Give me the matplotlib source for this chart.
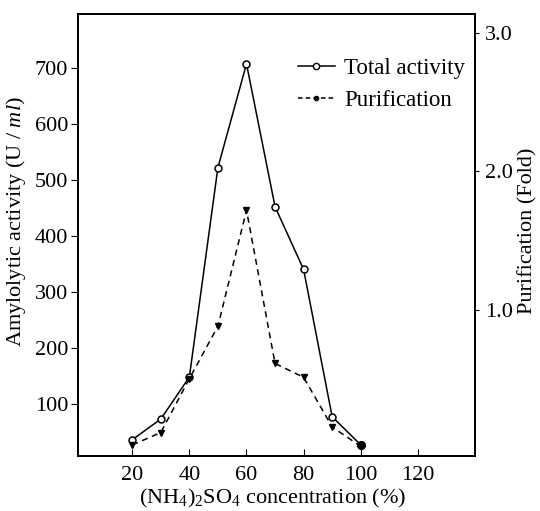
import matplotlib.pyplot as plt
from matplotlib.lines import Line2D

plt.rcParams['font.family'] = ['Liberation Serif', 'DejaVu Serif']
plt.rcParams['mathtext.fontset'] = 'custom'
plt.rcParams['mathtext.rm'] = 'Liberation Serif'
plt.rcParams['mathtext.it'] = 'Liberation Serif:italic'

# data
conc = [20, 30, 40, 50, 60, 70, 80, 90, 100]
total_activity = [36, 73, 148, 522, 707, 452, 340, 77, 27]
purification = [0.02, 0.11, 0.50, 0.88, 1.72, 0.61, 0.51, 0.15, 0.01]

x_ticks = [20, 40, 60, 80, 100, 120]
left_ticks = [100, 200, 300, 400, 500, 600, 700]
right_ticks = [1.0, 2.0, 3.0]

fs = 16

fig = plt.figure(figsize=(5.4, 5.11), dpi=100)
ax = fig.add_axes([0.1444, 0.1076, 0.7352, 0.865])
ax2 = ax.twinx()

ax.plot(conc, total_activity, color='black', linewidth=1.1,
        marker='o', markersize=5, markerfacecolor='white', markeredgewidth=1.1)
ax2.plot(conc, purification, color='black', linewidth=1.1, linestyle=(0, (4, 3)),
         marker='v', markersize=4, markerfacecolor='black')
# overlapping last point appears as a filled dot
ax.plot(conc[-1:], total_activity[-1:], 'o', color='black', markersize=5.5)

ax.set_xlim(1, 140)
ax.set_ylim(7, 796)
ax2.set_ylim(-0.06, 3.14)

ax.set_xticks(x_ticks)
ax.set_yticks(left_ticks)
ax2.set_yticks(right_ticks)
ax2.set_yticklabels([f'{t:.1f}' for t in right_ticks])

ax.tick_params(axis='x', direction='in', length=5, labelsize=fs, pad=7)
ax.tick_params(axis='y', direction='out', length=5, labelsize=fs, pad=2)
ax2.tick_params(axis='y', direction='out', length=3, labelsize=fs, pad=4)

ax.set_xlabel('(NH$_4$)$_2$SO$_4$ concentration (%)', fontsize=fs)
ax.xaxis.set_label_coords(0.49, -0.071)
ax.set_ylabel('Amylolytic activity (U / $\\mathit{ml}$)', fontsize=fs)
ax.yaxis.set_label_coords(-0.125, 0.53)
ax2.set_ylabel('Purification (Fold)', fontsize=fs)
ax2.yaxis.set_label_coords(1.108, 0.51)

for a in (ax, ax2):
    for s in a.spines.values():
        s.set_linewidth(1.4)

handles = [
    Line2D([], [], color='black', linewidth=1.1, marker='o', markersize=4.5,
           markerfacecolor='white', markevery=[0, 1]),
    Line2D([], [], color='black', linewidth=1.1, linestyle=(0, (3, 2)), marker='o',
           markersize=3, markerfacecolor='black', markevery=[0, 1]),
]
ax.legend(handles, ['Total activity', 'Purification'], loc='upper left',
          bbox_to_anchor=(0.554, 0.901), frameon=False, fontsize=16.5,
          borderaxespad=0, borderpad=0,
          handlelength=1.6, handletextpad=0.43, labelspacing=0.47)

plt.savefig('out.png', dpi=100)
